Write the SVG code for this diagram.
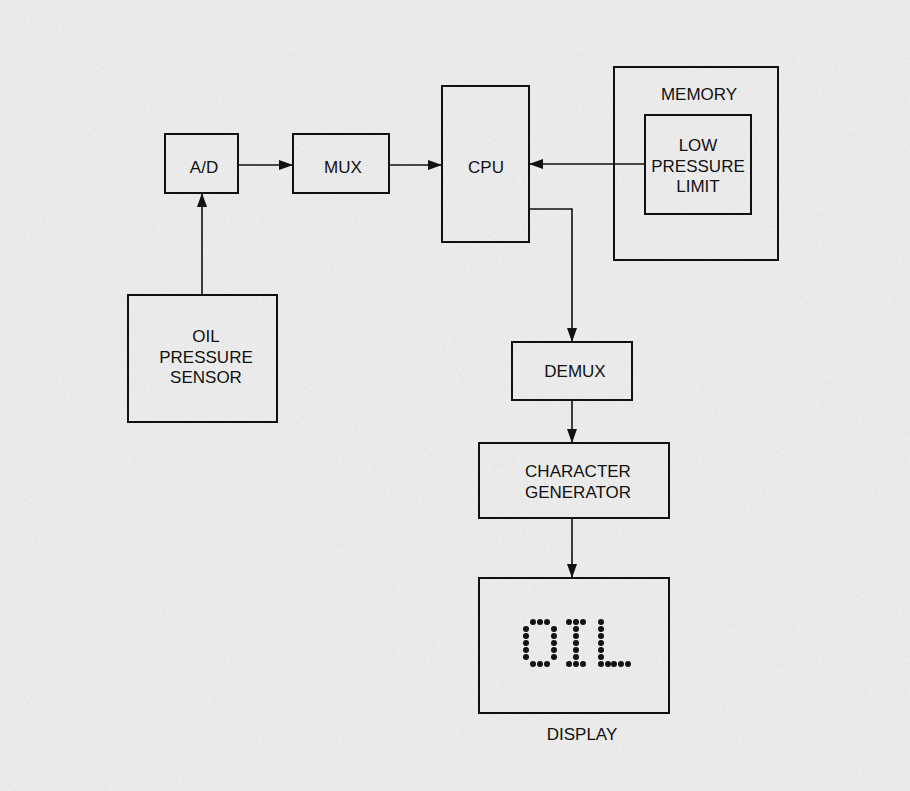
<svg xmlns="http://www.w3.org/2000/svg" width="910" height="791" viewBox="0 0 910 791">
<defs>
<style>
.box{fill:none;stroke:#111;stroke-width:2}
.ln{fill:none;stroke:#111;stroke-width:1.6}
text{font-family:"Liberation Sans",Arial,sans-serif;font-size:17px;fill:#111;text-anchor:middle}
.dot{fill:#111}
</style>
<marker id="ah" viewBox="0 0 14 10" refX="14" refY="5" markerWidth="14" markerHeight="10" markerUnits="userSpaceOnUse" orient="auto">
<path d="M0,0 L14,5 L0,10 Z" fill="#111"/>
</marker>
<filter id="noise" x="0" y="0" width="100%" height="100%">
<feTurbulence type="fractalNoise" baseFrequency="0.9" numOctaves="1" seed="3" result="t"/>
<feColorMatrix type="matrix" values="0 0 0 0 0.55  0 0 0 0 0.55  0 0 0 0 0.55  0 0 0 -2.2 1.15" in="t"/>
</filter>
</defs>
<rect width="910" height="791" fill="#ececec"/>
<rect width="910" height="791" filter="url(#noise)" opacity="0.35"/>
<g id="connectors">
<line class="ln" x1="238" y1="165" x2="293" y2="165" marker-end="url(#ah)"/>
<line class="ln" x1="389" y1="165" x2="442" y2="165" marker-end="url(#ah)"/>
<line class="ln" x1="645" y1="164" x2="529" y2="164" marker-end="url(#ah)"/>
<line class="ln" x1="202" y1="295" x2="202" y2="193" marker-end="url(#ah)"/>
<polyline class="ln" points="529,209 572,209 572,342" marker-end="url(#ah)"/>
<line class="ln" x1="572" y1="400" x2="572" y2="443" marker-end="url(#ah)"/>
<line class="ln" x1="572" y1="518" x2="572" y2="578" marker-end="url(#ah)"/>
</g>
<g id="ad">
<rect class="box" x="165" y="134" width="73" height="59"/>
<text x="204" y="173">A/D</text>
</g>
<g id="mux">
<rect class="box" x="293" y="134" width="96" height="59"/>
<text x="343" y="173">MUX</text>
</g>
<g id="cpu">
<rect class="box" x="442" y="86" width="87" height="156"/>
<text x="486" y="173">CPU</text>
</g>
<g id="memory">
<rect class="box" x="614" y="67" width="164" height="193"/>
<text x="699" y="100">MEMORY</text>
</g>
<g id="limit">
<rect class="box" x="645" y="115" width="106" height="99"/>
<text x="698" y="151">LOW</text>
<text x="698" y="172">PRESSURE</text>
<text x="698" y="192">LIMIT</text>
</g>
<g id="sensor">
<rect class="box" x="128" y="295" width="149" height="127"/>
<text x="206" y="342">OIL</text>
<text x="206" y="363">PRESSURE</text>
<text x="206" y="383">SENSOR</text>
</g>
<g id="demux">
<rect class="box" x="512" y="342" width="120" height="58"/>
<text x="575" y="377">DEMUX</text>
</g>
<g id="chargen">
<rect class="box" x="479" y="443" width="190" height="75"/>
<text x="578" y="477">CHARACTER</text>
<text x="578" y="498">GENERATOR</text>
</g>
<g id="display">
<rect class="box" x="479" y="578" width="190" height="135"/>
<g class="dot">
<circle cx="533" cy="622" r="3"/><circle cx="540" cy="622" r="3"/><circle cx="547" cy="622" r="3"/>
<circle cx="526" cy="629" r="3"/><circle cx="526" cy="636" r="3"/><circle cx="526" cy="643" r="3"/><circle cx="526" cy="650" r="3"/><circle cx="526" cy="657" r="3"/>
<circle cx="554" cy="629" r="3"/><circle cx="554" cy="636" r="3"/><circle cx="554" cy="643" r="3"/><circle cx="554" cy="650" r="3"/><circle cx="554" cy="657" r="3"/>
<circle cx="533" cy="664" r="3"/><circle cx="540" cy="664" r="3"/><circle cx="547" cy="664" r="3"/>
<circle cx="569" cy="622" r="3"/><circle cx="576" cy="622" r="3"/><circle cx="583" cy="622" r="3"/>
<circle cx="576" cy="629" r="3"/><circle cx="576" cy="636" r="3"/><circle cx="576" cy="643" r="3"/><circle cx="576" cy="650" r="3"/><circle cx="576" cy="657" r="3"/>
<circle cx="569" cy="664" r="3"/><circle cx="576" cy="664" r="3"/><circle cx="583" cy="664" r="3"/>
<circle cx="601" cy="622" r="3"/><circle cx="601" cy="629" r="3"/><circle cx="601" cy="636" r="3"/><circle cx="601" cy="643" r="3"/><circle cx="601" cy="650" r="3"/><circle cx="601" cy="657" r="3"/><circle cx="601" cy="664" r="3"/>
<circle cx="608" cy="664" r="3"/><circle cx="614" cy="664" r="3"/><circle cx="621" cy="664" r="3"/><circle cx="628" cy="664" r="3"/>
</g>
<text x="582" y="740">DISPLAY</text>
</g>
</svg>
